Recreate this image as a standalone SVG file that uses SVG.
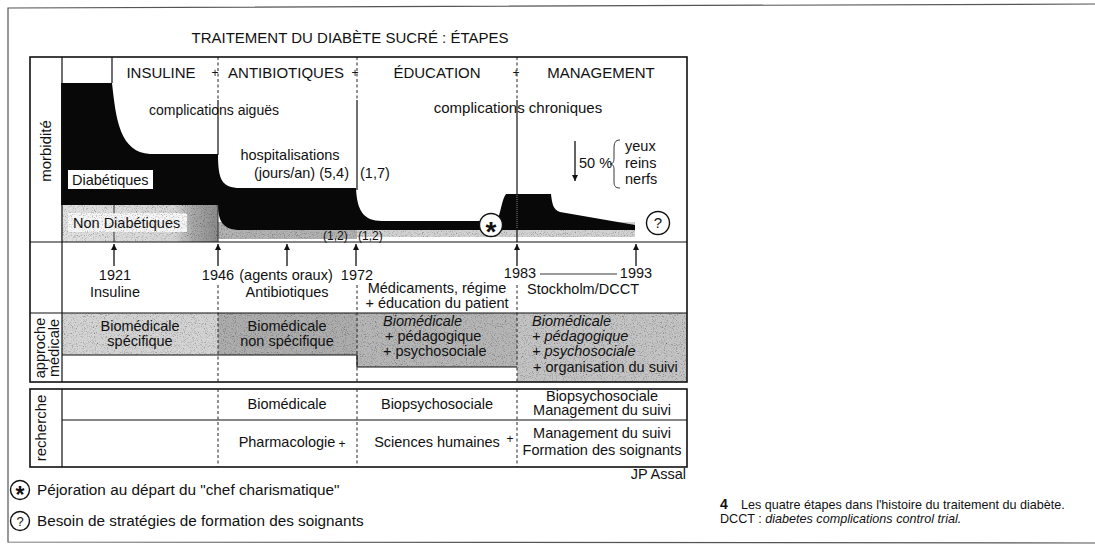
<svg xmlns="http://www.w3.org/2000/svg" width="1095" height="545" viewBox="0 0 1095 545">
<defs>
<style>
text { font-family: "Liberation Sans", Arial, sans-serif; fill: #111; font-size: 14.5px; }
.hdr { font-size: 15px; }
.sm { font-size: 12px; }
.cap { font-size: 12.6px; }
.leg { font-size: 15.3px; }
.it { font-style: italic; }
.mid { text-anchor: middle; }
.end { text-anchor: end; }
.box { fill: none; stroke: #111; stroke-width: 1.6; }
.ln { stroke: #111; stroke-width: 1.2; fill: none; }
.thin { stroke: #222; stroke-width: 0.9; fill: none; }
.dash { stroke: #222; stroke-width: 1; stroke-dasharray: 3 2.5; fill: none; }
.arr { stroke: #111; stroke-width: 1.3; fill: none; marker-end: url(#ah); }
.grain { filter: url(#grain); }
.circ { fill: #fff; stroke: #111; stroke-width: 1.4; }
</style>
<marker id="ah" viewBox="0 0 10 10" refX="10" refY="5" markerWidth="6" markerHeight="7" markerUnits="userSpaceOnUse" orient="auto">
<path d="M0,0 L10,5 L0,10 z" fill="#111"/>
</marker>
<filter id="grain" x="0" y="0" width="1" height="1">
<feTurbulence type="fractalNoise" baseFrequency="0.9" numOctaves="2" seed="4" result="n"/>
<feColorMatrix in="n" type="saturate" values="0" result="g"/>
<feComponentTransfer in="g" result="g2">
<feFuncR type="linear" slope="2.2" intercept="-0.1"/>
<feFuncG type="linear" slope="2.2" intercept="-0.1"/>
<feFuncB type="linear" slope="2.2" intercept="-0.1"/>
<feFuncA type="linear" slope="0" intercept="1"/>
</feComponentTransfer>
<feBlend in="SourceGraphic" in2="g2" mode="multiply" result="b"/>
<feComposite in="b" in2="SourceGraphic" operator="in"/>
</filter>
<linearGradient id="gLeft" x1="0" y1="0" x2="1" y2="0">
<stop offset="0" stop-color="#e2e2e2"/>
<stop offset="0.72" stop-color="#d6d6d6"/>
<stop offset="0.84" stop-color="#a8a8a8"/>
<stop offset="1" stop-color="#8c8c8c"/>
</linearGradient>
</defs>

<rect width="1095" height="545" fill="#fff"/>

<g id="frame">
<path d="M1095,4 L8,8 L8,542 L1095,543" stroke="#555" stroke-width="1.2" fill="none"/>
</g>

<g id="title">
<text class="hdr mid" x="350" y="43">TRAITEMENT DU DIABÈTE SUCRÉ : ÉTAPES</text>
</g>

<g id="morbidite">
<rect class="grain" x="61" y="205" width="157" height="37" fill="url(#gLeft)"/>
<rect class="grain" x="218" y="222" width="139" height="17" fill="#b2b2b2"/>
<rect class="grain" x="357" y="222" width="278" height="15" fill="#d2d2d2"/>
<path d="M61,83 L112,83 C116,120 120,152 150,154 L218,154 C218,180 222,188 240,188 L356,188 C357,210 363,221 382,221 L497,221 C501,212 502,199 506,194 L551,194 C552,203 553,210 560,212 L635,225 L635,230 L240,230 C224,230 218,222 218,205 L61,205 Z" fill="#080808"/>
<line class="ln" x1="112" y1="57" x2="112" y2="83"/>
<line class="thin" x1="114" y1="205" x2="114" y2="242"/>
<line class="thin" x1="218" y1="205" x2="218" y2="242"/>
<line class="dash" x1="218" y1="57" x2="218" y2="100"/>
<line class="ln" x1="218" y1="100" x2="218" y2="155"/>
<line class="dash" x1="357" y1="57" x2="357" y2="100"/>
<line class="ln" x1="357" y1="100" x2="357" y2="190"/>
<line class="dash" x1="517" y1="57" x2="517" y2="100"/>
<line class="ln" x1="517" y1="100" x2="517" y2="242"/>
<line x1="517" y1="195" x2="517" y2="229" stroke="#777" stroke-width="1" stroke-dasharray="1 1"/>
<rect x="68" y="170" width="85" height="19" fill="#fff"/>
<text x="72" y="185">Diabétiques</text>
<rect class="grain" x="68" y="213" width="119" height="19" fill="#f6f6f6"/>
<text x="73" y="228">Non Diabétiques</text>
<text class="hdr mid" x="161" y="78">INSULINE</text>
<text class="sm mid" x="215" y="77">+</text>
<text class="hdr mid" x="286" y="78">ANTIBIOTIQUES</text>
<text class="sm mid" x="355" y="77">+</text>
<text class="hdr mid" x="437" y="78">ÉDUCATION</text>
<text class="sm mid" x="516" y="77">+</text>
<text class="hdr mid" x="601" y="78">MANAGEMENT</text>
<text class="mid" x="214" y="115" style="font-size:14px">complications aiguës</text>
<text class="hdr mid" x="518" y="113">complications chroniques</text>
<text class="mid" x="290" y="160">hospitalisations</text>
<text class="end" x="349" y="178">(jours/an) (5,4)</text>
<text x="360" y="178">(1,7)</text>
<text class="sm" x="323" y="240">(1,2)</text>
<text class="sm" x="358" y="240">(1,2)</text>
<text x="579" y="168">50 %</text>
<path d="M620,140 C615,140 614,143 614,149 L614,158 C614,162 613,164 610,164 C613,164 614,166 614,170 L614,181 C614,186 615,188 620,188" class="thin"/>
<text x="625" y="151">yeux</text>
<text x="625" y="168">reins</text>
<text x="625" y="184">nerfs</text>
<circle class="circ" cx="491" cy="225" r="11.5"/>
<text class="mid" x="491" y="241" style="font-size:28px;font-weight:bold">*</text>
<circle class="circ" cx="658" cy="223" r="11.5"/>
<text class="mid" x="658" y="228" style="font-size:15px">?</text>
<text class="hdr mid" transform="translate(51,151) rotate(-90)">morbidité</text>
</g>

<g id="timeline">
<text class="mid" x="115" y="280">1921</text>
<text class="mid" x="115" y="297">Insuline</text>
<text class="mid" x="218" y="280">1946</text>
<text class="mid" x="286" y="280">(agents oraux)</text>
<text class="mid" x="357" y="280">1972</text>
<text class="mid" x="287" y="297">Antibiotiques</text>
<text class="mid" x="437" y="293">Médicaments, régime</text>
<text class="mid" x="437" y="308">+ éducation du patient</text>
<text class="mid" x="520" y="278">1983</text>
<line class="thin" x1="540" y1="274" x2="617" y2="274"/>
<text class="mid" x="636" y="278">1993</text>
<text x="527" y="294">Stockholm/DCCT</text>
</g>

<g id="approche">
<rect class="grain" x="62" y="313" width="156" height="42" fill="#d4d4d4"/>
<rect class="grain" x="218" y="313" width="139" height="42" fill="#adadad"/>
<rect class="grain" x="357" y="313" width="160" height="54" fill="#b6b6b6"/>
<rect class="grain" x="517" y="313" width="170" height="69" fill="#c4c4c4"/>
<path class="ln" d="M62,355 L357,355 L357,367 L517,367"/>
<text class="mid" x="140" y="331">Biomédicale</text>
<text class="mid" x="140" y="346">spécifique</text>
<text class="mid" x="287" y="331">Biomédicale</text>
<text class="mid" x="287" y="346">non spécifique</text>
<text class="it" x="383" y="326">Biomédicale</text>
<text x="385" y="341">+ pédagogique</text>
<text x="383" y="356">+ psychosociale</text>
<text class="it" x="532" y="326">Biomédicale</text>
<text class="it" x="532" y="341">+ pédagogique</text>
<text class="it" x="532" y="356">+ psychosociale</text>
<text x="533" y="372">+ organisation du suivi</text>
<text transform="translate(45,348) rotate(-90)" class="mid">approche</text>
<text transform="translate(59,348) rotate(-90)" class="mid">médicale</text>
</g>

<g id="mainbox">
<rect class="box" x="30" y="57" width="657" height="325"/>
<line class="ln" x1="62" y1="57" x2="62" y2="382"/>
<line class="ln" x1="30" y1="242" x2="687" y2="242" stroke-width="1.5"/>
<line class="ln" x1="30" y1="313" x2="687" y2="313"/>
<line class="dash" x1="218" y1="285" x2="218" y2="382"/>
<line class="dash" x1="357" y1="285" x2="357" y2="382"/>
<line class="dash" x1="517" y1="285" x2="517" y2="382"/>
</g>

<g id="recherche">
<rect class="box" x="30" y="389" width="657" height="78"/>
<line class="ln" x1="62" y1="389" x2="62" y2="467"/>
<line class="ln" x1="62" y1="420" x2="687" y2="420"/>
<line class="dash" x1="218" y1="389" x2="218" y2="467"/>
<line class="dash" x1="357" y1="389" x2="357" y2="467"/>
<line class="dash" x1="517" y1="389" x2="517" y2="467"/>
<text class="hdr mid" transform="translate(46,428) rotate(-90)">recherche</text>
<text class="mid" x="287" y="409">Biomédicale</text>
<text class="mid" x="437" y="409">Biopsychosociale</text>
<text class="mid" x="602" y="401">Biopsychosociale</text>
<text class="mid" x="602" y="415">Management du suivi</text>
<text class="mid" x="287" y="447">Pharmacologie</text>
<text class="sm mid" x="342" y="448">+</text>
<text class="mid" x="437" y="447">Sciences humaines</text>
<text class="sm mid" x="510" y="443">+</text>
<text class="mid" x="602" y="438">Management du suivi</text>
<text class="mid" x="602" y="455">Formation des soignants</text>
</g>

<g id="connectors">
<line class="arr" x1="114" y1="266" x2="114" y2="244"/>
<line class="arr" x1="218" y1="266" x2="218" y2="244"/>
<line class="arr" x1="287" y1="266" x2="287" y2="244"/>
<line class="arr" x1="356" y1="266" x2="356" y2="244"/>
<line class="arr" x1="517" y1="266" x2="517" y2="244"/>
<line class="arr" x1="636" y1="266" x2="636" y2="244"/>
<line class="arr" x1="575" y1="141" x2="575" y2="181"/>
</g>

<g id="legend">
<circle class="circ" cx="20" cy="490" r="9.5"/>
<text class="mid" x="20" y="503" style="font-size:23px;font-weight:bold">*</text>
<text class="leg" x="37" y="495">Péjoration au départ du "chef charismatique"</text>
<circle class="circ" cx="20" cy="521" r="9.5"/>
<text class="mid" x="20" y="526" style="font-size:13px">?</text>
<text class="leg" x="37" y="526">Besoin de stratégies de formation des soignants</text>
</g>

<g id="credit">
<text class="end" x="686" y="479">JP Assal</text>
</g>

<g id="caption">
<text x="720" y="509" style="font-size:14px;font-weight:bold">4</text>
<text class="cap" x="741" y="509">Les quatre étapes dans l'histoire du traitement du diabète.</text>
<text class="cap" x="720" y="523">DCCT : <tspan class="it">diabetes complications control trial.</tspan></text>
</g>
</svg>
